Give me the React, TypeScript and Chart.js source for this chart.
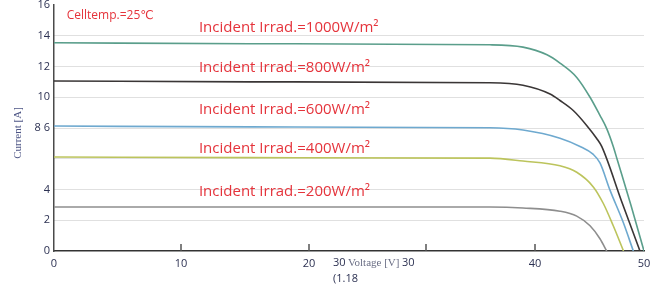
import React, { useEffect, useRef } from 'react';
import { Chart, registerables, LinearScale } from 'chart.js';

// ---- data ----
const voltageTickValues = [0, 10, 20, 30, 40, 50];

const irr1000: [number, number][] = [
  [0, 13.54], [15.4, 13.48], [35.87, 13.41], [38.9, 13.26], [41.1, 12.76], [42.29, 12.22],
  [43.83, 11.29], [45.05, 10.0], [45.96, 8.82], [46.58, 7.96], [47.18, 6.8], [47.52, 6.0],
  [48.81, 2.96], [50, 0],
];
const irr800: [number, number][] = [
  [0, 11.06], [15.4, 11.0], [35.87, 10.94], [38.9, 10.78], [41.38, 10.21], [42.29, 9.79],
  [43.51, 9.14], [44.74, 8.17], [45.66, 7.32], [46.12, 6.8], [47.95, 3.22], [49.63, 0],
];
const irr600: [number, number][] = [
  [0, 8.13], [15.4, 8.07], [35.87, 8.02], [38.9, 7.87], [42.29, 7.34], [44.13, 6.8],
  [45.35, 6.28], [45.96, 5.73], [46.88, 3.96], [48.1, 1.85], [49.02, 0],
];
const irr400: [number, number][] = [
  [0, 6.11], [15.4, 6.07], [35.87, 6.04], [38.9, 5.85], [42.29, 5.54], [43.83, 5.12],
  [45.35, 4.17], [46.27, 3.09], [47.18, 1.64], [48.12, 0],
];
const irr200: [number, number][] = [
  [0, 2.86], [15.4, 2.86], [35.87, 2.86], [38.9, 2.8], [42.29, 2.59], [43.83, 2.27],
  [45.05, 1.64], [45.96, 0.8], [46.58, 0],
];

const seriesData = [irr1000, irr800, irr600, irr400, irr200];
const seriesNames = ['1000W/m²', '800W/m²', '600W/m²', '400W/m²', '200W/m²'];
const seriesColors = ['#5a9e8b', '#3a3636', '#6ea9cf', '#bcc45c', '#8e8e8e'];

const irradianceLabels = [
  'Incident Irrad.=1000W/m²',
  'Incident Irrad.=800W/m²',
  'Incident Irrad.=600W/m²',
  'Incident Irrad.=400W/m²',
  'Incident Irrad.=200W/m²',
];
const irradianceLabelAnchorsY = [14.5, 11.9, 9.17, 6.63, 3.84];
const irradianceLabelAnchorX = 11.4;
const cellTempLabel = 'Celltemp.=25℃';

// ---- a linear scale whose tick spacing follows the reference's uneven axis ----
const stopFractions = [0, 127 / 590, 255 / 590, 372 / 590, 481 / 590, 1];

class PiecewiseScale extends LinearScale {
  static id = 'piecewise';
  static defaults = LinearScale.defaults;
  getPixelForValue(value: number) {
    if (value === null || value === undefined || isNaN(value)) return NaN;
    const V = voltageTickValues;
    const F = stopFractions;
    let i = 0;
    while (i < V.length - 2 && value > V[i + 1]) i++;
    const dec = F[i] + ((value - V[i]) / (V[i + 1] - V[i])) * (F[i + 1] - F[i]);
    return (this as any).getPixelForDecimal(dec);
  }
  getValueForPixel(pixel: number) {
    const dec = (this as any).getDecimalForPixel(pixel);
    const V = voltageTickValues;
    const F = stopFractions;
    let i = 0;
    while (i < F.length - 2 && dec > F[i + 1]) i++;
    return V[i] + ((dec - F[i]) / (F[i + 1] - F[i])) * (V[i + 1] - V[i]);
  }
}

Chart.register(...registerables, PiecewiseScale as any);

const SANS = '"Open Sans", "DejaVu Sans", sans-serif';
const SERIF = '"Liberation Serif", "DejaVu Serif", serif';
const NAVY = '#2c3152';

const textPlugin = {
  id: 'refTexts',
  afterDraw(chart: any) {
    const { ctx, chartArea } = chart;
    const x = chart.scales.x;
    const y = chart.scales.y;
    ctx.save();
    // inner tick marks on the x axis
    ctx.strokeStyle = '#555';
    ctx.lineWidth = 1.5;
    voltageTickValues.slice(1, -1).forEach((v) => {
      const px = x.getPixelForValue(v);
      ctx.beginPath();
      ctx.moveTo(px, chartArea.bottom - 7);
      ctx.lineTo(px, chartArea.bottom);
      ctx.stroke();
    });
    // red annotations
    ctx.fillStyle = '#e5333b';
    ctx.textBaseline = 'middle';
    ctx.textAlign = 'left';
    ctx.font = `15px ${SANS}`;
    irradianceLabels.forEach((t, i) => {
      ctx.fillText(t, x.getPixelForValue(irradianceLabelAnchorX), y.getPixelForValue(irradianceLabelAnchorsY[i]));
    });
    ctx.font = `12px ${SANS}`;
    ctx.fillText(cellTempLabel, x.getPixelForValue(1.0), y.getPixelForValue(15.28));
    // y axis title
    ctx.save();
    ctx.translate(18, 133);
    ctx.rotate(-Math.PI / 2);
    ctx.textAlign = 'center';
    ctx.fillStyle = '#4d5585';
    ctx.font = `11px ${SERIF}`;
    ctx.fillText('Current [A]', 0, 0);
    ctx.restore();
    // x axis title (mixed fonts as in the reference)
    ctx.textAlign = 'left';
    ctx.textBaseline = 'middle';
    ctx.font = `11px ${SANS}`;
    ctx.fillStyle = NAVY;
    ctx.fillText('30', 333, 263);
    ctx.fillText('30', 402, 263);
    ctx.fillText('(1.18', 333, 279);
    ctx.font = `11px ${SERIF}`;
    ctx.fillStyle = '#6a6e85';
    ctx.fillText('Voltage [V]', 348, 263);
    ctx.restore();
  },
};

export default function App() {
  const ref = useRef<HTMLCanvasElement>(null);
  useEffect(() => {
    if (!ref.current) return;
    const chart = new Chart(ref.current, {
      type: 'line',
      data: {
        datasets: seriesData.map((d, i) => ({
          label: seriesNames[i],
          data: d.map(([vx, vy]) => ({ x: vx, y: vy })),
          borderColor: seriesColors[i],
          borderWidth: 1.6,
          pointRadius: 0,
          fill: false,
          cubicInterpolationMode: 'monotone' as const,
        })),
      },
      options: {
        animation: false,
        responsive: false,
        devicePixelRatio: 1,
        layout: { padding: { top: 5, right: 22, left: 0, bottom: 0 } },
        plugins: { legend: { display: false }, tooltip: { enabled: false } },
        scales: {
          x: {
            type: 'piecewise' as any,
            min: 0,
            max: 50,
            ticks: {
              stepSize: 10,
              padding: 6,
              color: NAVY,
              font: { family: SANS, size: 11 },
              callback: (v: any) => (v === 30 ? '' : String(v)),
            },
            grid: { display: false, drawTicks: false },
            border: { display: true, color: '#333', width: 1.5 },
            afterFit: (s: any) => { s.height = 37; },
          } as any,
          y: {
            type: 'linear',
            min: 0,
            max: 16,
            ticks: {
              stepSize: 2,
              padding: 4,
              color: NAVY,
              font: { family: SANS, size: 11 },
              callback: (v: any) => (v === 6 ? '' : v === 8 ? '8 6' : String(v)),
            },
            grid: {
              drawTicks: false,
              color: (c: any) => (c.tick && (c.tick.value === 0 || c.tick.value === 16) ? 'rgba(0,0,0,0)' : '#c0c0c0'),
              lineWidth: 1,
            },
            border: { display: true, color: '#4a4a4a', width: 1.5, dash: [1, 1] as any },
            afterFit: (s: any) => { s.width = 54; s.paddingTop = 0; s.paddingBottom = 0; },
          } as any,
        },
      },
      plugins: [textPlugin],
    });
    return () => chart.destroy();
  }, []);
  return (
    <div style={{ position: 'absolute', left: 0, top: 0, width: 666, height: 288 }}>
      <canvas ref={ref} width={666} height={288} style={{ display: 'block' }} />
    </div>
  );
}
